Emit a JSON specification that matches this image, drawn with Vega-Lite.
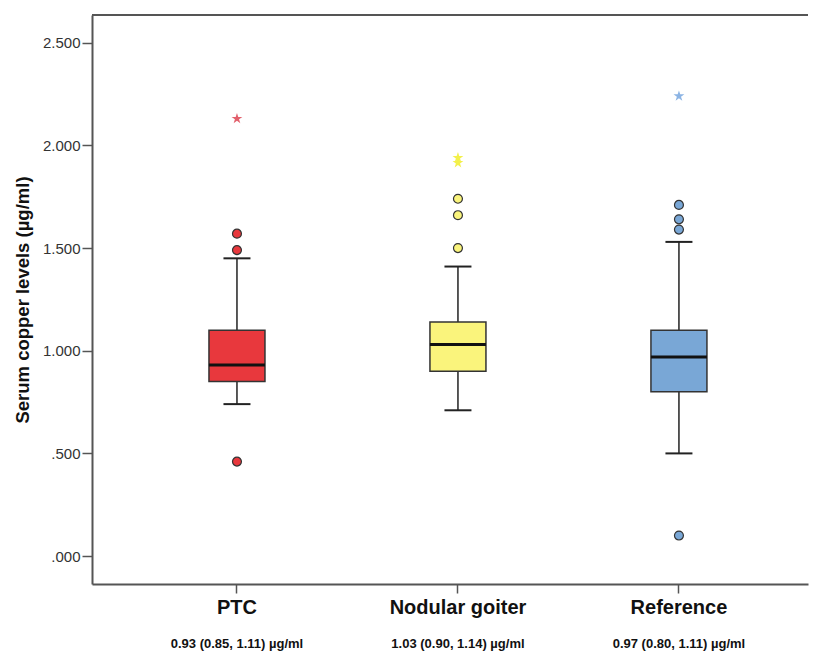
{
  "$schema": "https://vega.github.io/schema/vega-lite/v6.json",
  "width": 716,
  "height": 569,
  "autosize": {"type": "none"},
  "padding": {"left": 92, "top": 15, "right": 9, "bottom": 71},
  "background": "white",
  "config": {"view": {"stroke": null}, "font": "Liberation Sans"},
  "datasets": {
    "boxes": [
      {"group": "PTC", "lo": 0.74, "q1": 0.85, "med": 0.93, "q3": 1.10, "hi": 1.45, "label": "0.93 (0.85, 1.11) µg/ml"},
      {"group": "Nodular goiter", "lo": 0.71, "q1": 0.90, "med": 1.03, "q3": 1.14, "hi": 1.41, "label": "1.03 (0.90, 1.14) µg/ml"},
      {"group": "Reference", "lo": 0.50, "q1": 0.80, "med": 0.97, "q3": 1.10, "hi": 1.53, "label": "0.97 (0.80, 1.11) µg/ml"}
    ],
    "outliers": [
      {"group": "PTC", "value": 0.46},
      {"group": "PTC", "value": 1.49},
      {"group": "PTC", "value": 1.57},
      {"group": "Nodular goiter", "value": 1.50},
      {"group": "Nodular goiter", "value": 1.66},
      {"group": "Nodular goiter", "value": 1.74},
      {"group": "Reference", "value": 0.10},
      {"group": "Reference", "value": 1.59},
      {"group": "Reference", "value": 1.64},
      {"group": "Reference", "value": 1.71}
    ],
    "extremes": [
      {"group": "PTC", "value": 2.13},
      {"group": "Nodular goiter", "value": 1.915},
      {"group": "Nodular goiter", "value": 1.94},
      {"group": "Reference", "value": 2.24}
    ]
  },
  "layer": [
    {
      "data": {"name": "boxes"},
      "mark": {"type": "rule", "color": "#222", "strokeWidth": 1.5},
      "encoding": {
        "x": {
          "field": "group", "type": "nominal",
          "sort": ["PTC", "Nodular goiter", "Reference"],
          "scale": {"paddingInner": 0, "paddingOuter": 0.12, "align": 0.65},
          "axis": {
            "title": null, "labelAngle": 0, "labelFontSize": 20, "labelFontWeight": "bold",
            "labelColor": "#111", "labelPadding": 4, "tickSize": 9, "tickWidth": 1.5,
            "tickColor": "#555", "domainColor": "#555", "domainWidth": 2
          }
        },
        "y": {
          "field": "lo", "type": "quantitative",
          "scale": {"domain": [-0.136, 2.635], "nice": false, "zero": false},
          "axis": {
            "values": [0, 0.5, 1, 1.5, 2, 2.5],
            "labelExpr": "datum.value < 1 ? substring(format(datum.value, '.3f'), 1) : format(datum.value, '.3f')",
            "title": "Serum copper levels (µg/ml)", "titleFontSize": 18.5, "titleFontWeight": "bold",
            "titleColor": "#111", "titlePadding": 10,
            "labelFontSize": 15, "labelColor": "#333", "labelPadding": 2,
            "tickSize": 10, "tickWidth": 1.5, "tickColor": "#555",
            "domainColor": "#555", "domainWidth": 2, "grid": false
          }
        },
        "y2": {"field": "hi"}
      }
    },
    {
      "data": {"name": "boxes"},
      "mark": {"type": "bar", "width": 56, "stroke": "#333", "strokeWidth": 1.5, "opacity": 1},
      "encoding": {
        "x": {"field": "group", "type": "nominal", "sort": ["PTC", "Nodular goiter", "Reference"]},
        "y": {"field": "q1", "type": "quantitative"},
        "y2": {"field": "q3"},
        "color": {
          "field": "group", "type": "nominal",
          "scale": {"domain": ["PTC", "Nodular goiter", "Reference"], "range": ["#e8383d", "#faf47c", "#79a7d6"]},
          "legend": null
        }
      }
    },
    {
      "data": {"name": "boxes"},
      "mark": {"type": "tick", "size": 56, "thickness": 3, "color": "#111", "opacity": 1},
      "encoding": {
        "x": {"field": "group", "type": "nominal", "sort": ["PTC", "Nodular goiter", "Reference"]},
        "y": {"field": "med", "type": "quantitative"}
      }
    },
    {
      "data": {"name": "boxes"},
      "mark": {"type": "tick", "size": 27, "thickness": 2, "color": "#222", "opacity": 1},
      "encoding": {
        "x": {"field": "group", "type": "nominal", "sort": ["PTC", "Nodular goiter", "Reference"]},
        "y": {"field": "lo", "type": "quantitative"}
      }
    },
    {
      "data": {"name": "boxes"},
      "mark": {"type": "tick", "size": 27, "thickness": 2, "color": "#222", "opacity": 1},
      "encoding": {
        "x": {"field": "group", "type": "nominal", "sort": ["PTC", "Nodular goiter", "Reference"]},
        "y": {"field": "hi", "type": "quantitative"}
      }
    },
    {
      "data": {"name": "outliers"},
      "mark": {"type": "point", "shape": "circle", "filled": true, "size": 80, "stroke": "#333", "strokeWidth": 1.2, "opacity": 1},
      "encoding": {
        "x": {"field": "group", "type": "nominal", "sort": ["PTC", "Nodular goiter", "Reference"]},
        "y": {"field": "value", "type": "quantitative"},
        "color": {"field": "group", "type": "nominal", "legend": null}
      }
    },
    {
      "data": {"name": "extremes"},
      "mark": {
        "type": "point", "filled": true, "size": 130, "opacity": 1,
        "shape": "M0,-1L0.223,-0.307L0.951,-0.309L0.361,0.117L0.588,0.809L0,0.38L-0.588,0.809L-0.361,0.117L-0.951,-0.309L-0.223,-0.307Z"
      },
      "encoding": {
        "x": {"field": "group", "type": "nominal", "sort": ["PTC", "Nodular goiter", "Reference"]},
        "y": {"field": "value", "type": "quantitative"},
        "fill": {
          "field": "group", "type": "nominal",
          "scale": {"domain": ["PTC", "Nodular goiter", "Reference"], "range": ["#e2606c", "#f3f04a", "#8cb4e4"]},
          "legend": null
        }
      }
    },
    {
      "data": {"name": "boxes"},
      "mark": {"type": "text", "fontSize": 13, "fontWeight": "bold", "color": "#111", "baseline": "middle", "align": "center"},
      "encoding": {
        "x": {"field": "group", "type": "nominal", "sort": ["PTC", "Nodular goiter", "Reference"]},
        "y": {"datum": -0.43},
        "text": {"field": "label"}
      }
    },
    {
      "data": {"values": [{}]},
      "mark": {"type": "rule", "color": "#555", "strokeWidth": 2},
      "encoding": {"y": {"datum": 2.635}}
    }
  ]
}
